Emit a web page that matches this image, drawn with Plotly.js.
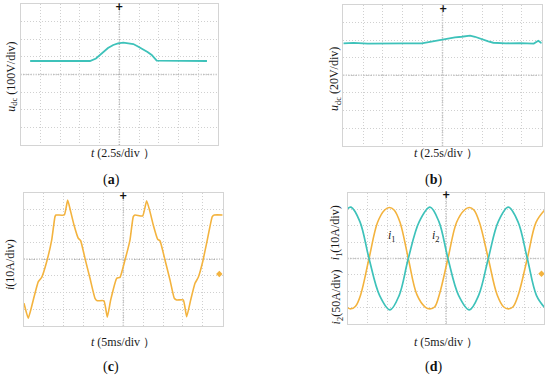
<!DOCTYPE html>
<html>
<head>
<meta charset="utf-8">
<script src="https://cdn.plot.ly/plotly-3.0.1.min.js"></script>
<style>html,body{margin:0;padding:0;background:#fff;}#chart{width:550px;height:380px;}</style>
</head>
<body>
<div id="chart"></div>
<script>
// ---- (a) DC-link voltage, 2.5 s/div, 100 V/div ----
const tA = [1.2, 8.78, 9.54, 10.47, 11.06, 11.73, 12.33, 13.0, 13.59, 14.27, 14.86, 15.53, 16.07, 16.6, 17.23, 23.6];
const uA = [76.6, 76.6, 90.8, 129.4, 150.4, 167.4, 177, 180.4, 178.7, 173, 158.9, 143, 127.7, 110.6, 78.3, 76.6];

// ---- (b) DC-link voltage, 2.5 s/div, 20 V/div ----
const tB = [0, 1.3, 3.1, 5.0, 7.5, 9.88, 11.14, 12.4, 13.23, 14.07, 14.92, 15.97, 16.59, 17.44, 18.27, 18.9, 20.5, 22.3, 24.0, 24.57, 25];
const uB = [36.4, 36.9, 36.2, 36.6, 36.3, 36.4, 38.7, 41.0, 42.1, 43.2, 43.9, 45.1, 43.9, 41.0, 38.7, 37.1, 36.4, 36.7, 36.2, 39.4, 36.6];

// ---- (c) current i, 5 ms/div, 10 A/div ----
const tC = [0, 1.08, 2.34, 3.6, 4.45, 5.71, 6.97, 7.8, 8.05, 10.14, 11.0, 11.75, 12.58, 13.66, 14.27, 15.35, 16.61, 17.87, 18.44, 20.13,
            20.96, 21.82, 23.33, 24.16, 25.41, 26.67, 27.5, 27.93, 29.87, 30.87, 31.7, 32.53, 33.64, 34.22, 35.48, 36.74, 37.82, 38.42, 40.08,
            40.94, 41.95, 43.03, 43.86, 44.97, 46.12, 47.38, 47.88, 50];
const iC = [-26.5, -35.5, -24.5, -13.5, -10.9, -1.5, 11.5, 25.6, 26.6, 26.6, 35.6, 28.6, 20.6, 12.6, 11.1, 0.5, -11.5, -23.5, -25.0, -25.0,
            -34.9, -24.5, -11.5, -10.9, -0.5, 11.5, 25.6, 26.6, 26.0, 35.2, 28.6, 20.6, 12.0, 11.1, -0.5, -12.5, -23.5, -24.5, -24.5,
            -34.6, -24.5, -14.5, -10.9, -1.5, 11.5, 25.6, 26.6, 26.6];

// ---- (d) i1 (10 A/div) and i2 (50 A/div), 5 ms/div ----
const tD1 = [0, 0.8, 2.0, 3.3, 5.42, 7.6, 9.4, 10.6, 11.8, 13.3, 15.41, 17.6, 19.7, 20.93, 22.1, 23.3, 25.5, 27.7, 29.7, 30.93, 32.1, 33.5, 35.76, 38.0, 39.7, 40.85, 42.0, 43.4, 45.68, 47.9, 50];
const i1D = [-30, -30.6, -29, -22, 0, 22, 29.5, 31, 29.5, 22, 0, -22, -29.5, -30.6, -29.5, -22, 0, 22, 29.5, 31, 29.5, 22, 0, -22, -29.5, -30.6, -29.5, -22, 0, 22, 29.2];
const tD2 = [0, 0.84, 3.1, 5.42, 8.1, 10.76, 13.1, 15.41, 18.2, 20.93, 23.2, 25.5, 28.2, 30.93, 33.3, 35.76, 38.3, 40.85, 43.3, 45.68, 48.0, 50];
const i2D = [152, 156, 112, 0, -112, -156, -112, 0, 112, 156, 112, 0, -112, -156, -112, 0, 112, 156, 112, 0, -112, -148];

const TEAL = '#3ec2ba';
const ORANGE = '#f3b33e';
const SERIF = 'Liberation Serif, Times New Roman, serif';

const traces = [
  {x: tA, y: uA, xaxis: 'x', yaxis: 'y', mode: 'lines', line: {color: TEAL, width: 1.8}},
  {x: tB, y: uB, xaxis: 'x2', yaxis: 'y2', mode: 'lines', line: {color: TEAL, width: 1.8}},
  {x: tC, y: iC, xaxis: 'x3', yaxis: 'y3', mode: 'lines', line: {color: ORANGE, width: 1.6, shape: 'spline', smoothing: 0.4}},
  {x: [49.15], y: [-8.9], xaxis: 'x3', yaxis: 'y3', mode: 'markers', marker: {color: ORANGE, size: 5, symbol: 'diamond'}},
  {x: tD1, y: i1D, xaxis: 'x4', yaxis: 'y4', mode: 'lines', line: {color: ORANGE, width: 1.6, shape: 'spline', smoothing: 1}},
  {x: tD2, y: i2D, xaxis: 'x4', yaxis: 'y5', mode: 'lines', line: {color: TEAL, width: 1.7, shape: 'spline', smoothing: 1}},
  {x: [49.3], y: [-9.3], xaxis: 'x4', yaxis: 'y4', mode: 'markers', marker: {color: ORANGE, size: 5, symbol: 'diamond'}}
];

function ax(domain, range, dtick, anchor) {
  return {domain: domain, range: range, dtick: dtick, tick0: range[0], anchor: anchor,
    showticklabels: false, ticks: '', zeroline: false, fixedrange: true,
    showline: true, mirror: true, linecolor: '#d4d4d4', linewidth: 1,
    showgrid: true, gridcolor: '#d0d0d0', gridwidth: 1, griddash: '1px,2px'};
}

function centerLines(xa, ya, xc, yc) {
  const st = {color: '#b0b0b0', width: 1.5, dash: '1px,1.5px'};
  return [
    {type: 'line', xref: xa + ' domain', x0: 0, x1: 1, yref: ya, y0: yc, y1: yc, line: st, layer: 'below'},
    {type: 'line', xref: xa, x0: xc, x1: xc, yref: ya + ' domain', y0: 0, y1: 1, line: st, layer: 'below'}
  ];
}

function lab(px, py, text, opts) {
  return Object.assign({xref: 'paper', yref: 'paper', x: px / 550, y: 1 - py / 380, text: text, showarrow: false,
    xanchor: 'center', yanchor: 'middle', font: {family: SERIF, size: 12, color: '#1a1a1a'}}, opts || {});
}

function trig(xa, ya, x, y) {
  return {xref: xa, yref: ya, x: x, y: y, text: '<b>+</b>', showarrow: false, xanchor: 'center', yanchor: 'middle',
    font: {family: 'DejaVu Sans', size: 10, color: '#111'}};
}

const annotations = [
  lab(11.7, 77, '<i>u</i><sub>dc</sub> (100V/div)', {textangle: -90}),
  lab(122.5, 153.3, '<i>t</i> (2.5s/div ）'),
  lab(111, 180, '(<b>a</b>)', {font: {family: SERIF, size: 14, color: '#111'}}),
  lab(335, 79, '<i>u</i><sub>dc</sub> (20V/div)', {textangle: -90}),
  lab(445.8, 153.3, '<i>t</i> (2.5s/div ）'),
  lab(433.3, 180, '(<b>b</b>)', {font: {family: SERIF, size: 14, color: '#111'}}),
  lab(10, 265, '<i>i</i>(10A/div)', {textangle: -90}),
  lab(122.5, 341.7, '<i>t</i> (5ms/div ）'),
  lab(110.8, 366.7, '(<b>c</b>)', {font: {family: SERIF, size: 14, color: '#111'}}),
  lab(336.7, 232.5, '<i>i</i><sub>1</sub>(10A/div)', {textangle: -90}),
  lab(336.7, 296.7, '<i>i</i><sub>2</sub>(50A/div)', {textangle: -90}),
  lab(445.8, 341.7, '<i>t</i> (5ms/div ）'),
  lab(433.3, 366.7, '(<b>d</b>)', {font: {family: SERIF, size: 14, color: '#111'}}),
  {xref: 'x4', yref: 'y4', x: 11.3, y: 13.4, text: '<i>i</i><sub>1</sub>', showarrow: false, font: {family: SERIF, size: 12, color: '#1a1a1a'}},
  {xref: 'x4', yref: 'y4', x: 22.4, y: 13.4, text: '<i>i</i><sub>2</sub>', showarrow: false, font: {family: SERIF, size: 12, color: '#1a1a1a'}},
  trig('x', 'y', 12.5, 383),
  trig('x2', 'y2', 12.5, 76),
  trig('x3', 'y3', 25, 38.6),
  trig('x4', 'y4', 25, 38.6)
];

const layout = {
  width: 550, height: 380, margin: {l: 0, r: 0, t: 0, b: 0},
  paper_bgcolor: '#fff', plot_bgcolor: '#fff', showlegend: false,
  xaxis: ax([0.0376, 0.3964], [0, 25], 2.5, 'y'),
  yaxis: ax([0.6184, 0.9895], [-400, 400], 100, 'x'),
  xaxis2: ax([0.6242, 0.9849], [0, 25], 2.5, 'y2'),
  yaxis2: ax([0.6166, 0.9868], [-80, 80], 20, 'x2'),
  xaxis3: ax([0.0436, 0.4049], [0, 50], 5, 'y3'),
  yaxis3: ax([0.1429, 0.4929], [-40, 40], 10, 'x3'),
  xaxis4: ax([0.6322, 0.9896], [0, 50], 5, 'y4'),
  yaxis4: ax([0.1466, 0.4929], [-40, 40], 10, 'x4'),
  yaxis5: {overlaying: 'y4', anchor: 'x4', range: [-200, 200], visible: false, showgrid: false, zeroline: false, fixedrange: true},
  shapes: [].concat(centerLines('x', 'y', 12.5, 0), centerLines('x2', 'y2', 12.5, 0),
                    centerLines('x3', 'y3', 25, 0), centerLines('x4', 'y4', 25, 0)),
  annotations: annotations
};

Plotly.newPlot('chart', traces, layout, {staticPlot: true, displayModeBar: false});
</script>
</body>
</html>
